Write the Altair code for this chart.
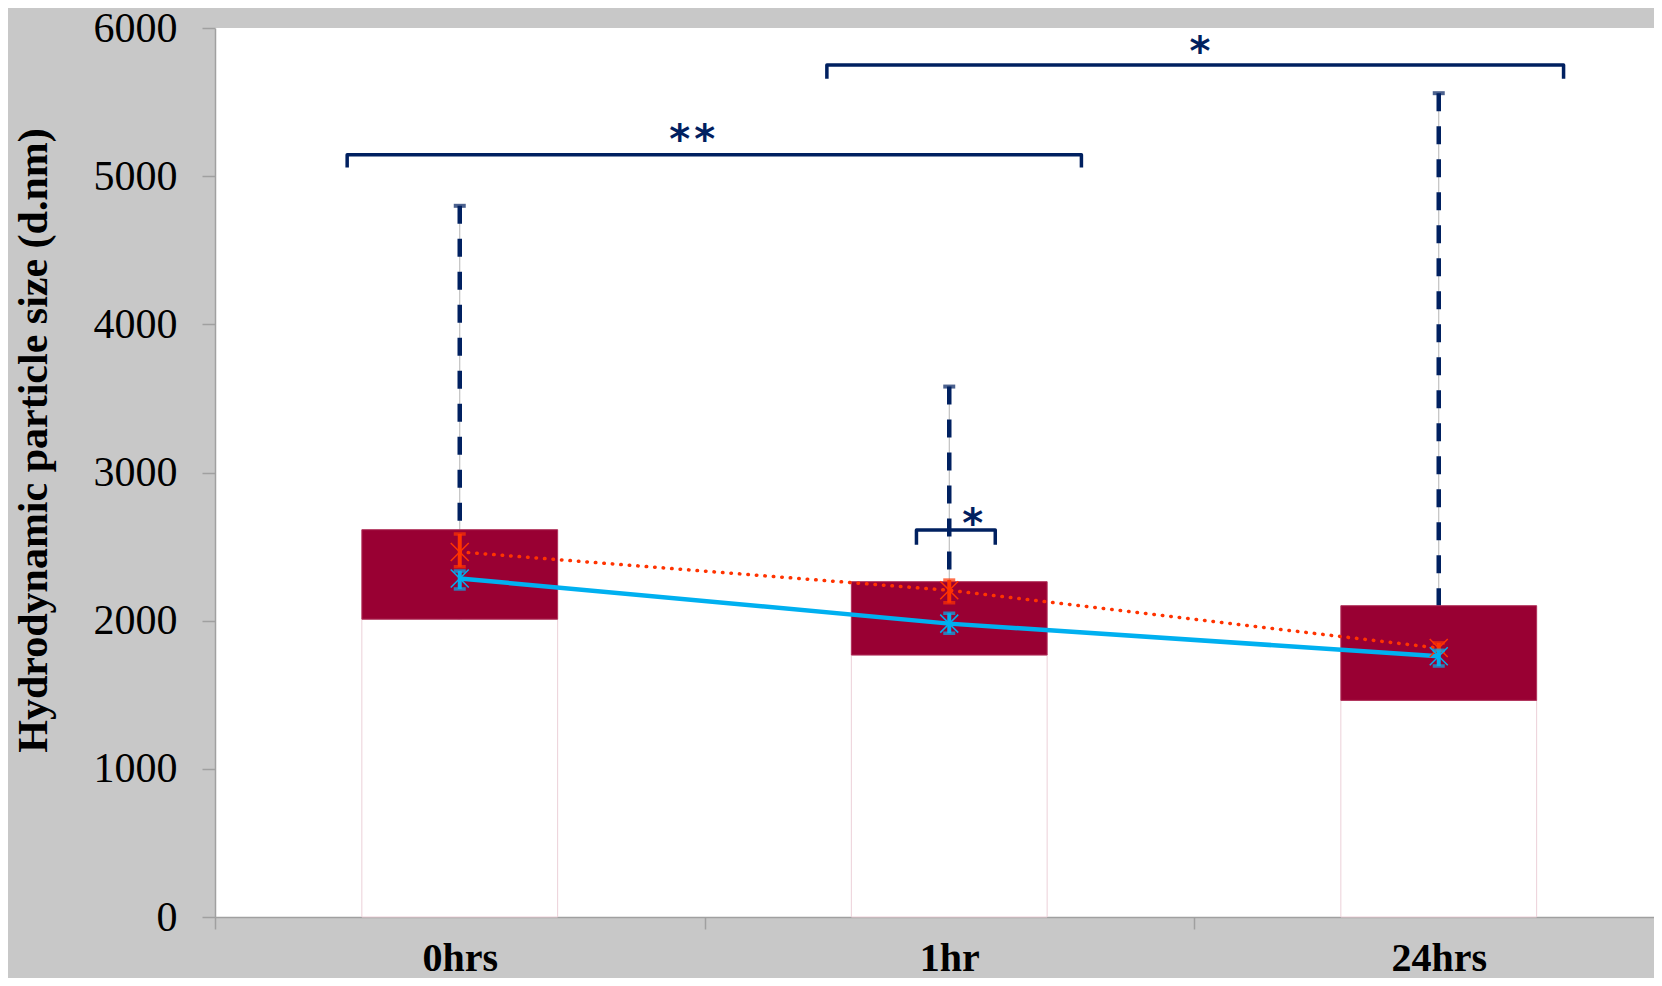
import altair as alt
import pandas as pd

# ---- data ----
categories = ["0hrs", "1hr", "24hrs"]
whisker_low = [1480, 1280, 820]
whisker_high = [4800, 3580, 5560]
box_low = [2010, 1768, 1462]
box_high = [2614, 2263, 2101]
orange_mean = [2464, 2205, 1815]
orange_low = [2364, 2121, 1790]
orange_high = [2585, 2274, 1850]
blue_mean = [2285, 1980, 1760]
blue_low = [2214, 1915, 1694]
blue_high = [2335, 2050, 1800]

# significance brackets (x in category units; category i is centred at i + 0.5)
br_x1 = [0.27, 1.25, 1.433]
br_x2 = [1.77, 2.755, 1.594]
br_y = [5145, 5750, 2612]
br_drop = [86, 93, 100]
br_label = ["*\u200a*", "*", "*"]
br_label_x = [0.975, 2.012, 1.548]
br_label_y = [5307, 5897, 2712]

# ---- tables ----
n = len(categories)
pos = [i + 0.5 for i in range(n)]
main = pd.DataFrame({
    "cat": categories, "pos": pos,
    "wlo": whisker_low, "whi": whisker_high,
    "blo": box_low, "bhi": box_high,
    "om": orange_mean, "olo": orange_low, "ohi": orange_high,
    "bm": blue_mean, "bl": blue_low, "bh": blue_high,
})
rows = []
for i in range(len(br_x1)):
    pts = [(br_x1[i], br_y[i] - br_drop[i]), (br_x1[i], br_y[i]),
           (br_x2[i], br_y[i]), (br_x2[i], br_y[i] - br_drop[i])]
    for k, (bx, by) in enumerate(pts):
        rows.append({"bid": i, "ord": k, "bx": bx, "by": by})
brackets = pd.DataFrame(rows)
stars = pd.DataFrame({"sx": br_label_x, "sy": br_label_y, "txt": br_label})

# ---- scales / axes ----
PLOT_W, PLOT_H = 1439, 889
STEP = 489.5
NAVY = "#002060"
ORANGE = "#FF3300"
BLUE = "#00B0F0"
GRAY_AX = "#a0a0a0"

x_scale = alt.Scale(domain=[0, PLOT_W / STEP], nice=False, zero=False)
y_scale = alt.Scale(domain=[0, 6000], nice=False)

label_expr = " : ".join(f"datum.value == {p} ? '{c}'" for p, c in zip(pos, categories)) + " : ''"
x_vals = sorted([float(i) for i in range(n)] + pos)
x_axis = alt.Axis(
    values=x_vals, labelExpr=label_expr,
    tickOpacity={"condition": {"test": "datum.value % 1 != 0", "value": 0}, "value": 1},
    tickSize=12, tickColor=GRAY_AX, tickWidth=1.5,
    domainColor=GRAY_AX, domainWidth=1.5,
    labelFont="Liberation Serif", labelFontSize=40, labelFontWeight="bold",
    labelColor="black", labelPadding=9, labelAngle=0, labelOverlap=False,
    labelFlush=False, grid=False,
)
y_axis = alt.Axis(
    values=list(range(0, 6001, 1000)), format="d",
    tickSize=13, tickColor=GRAY_AX, tickWidth=1.5,
    domainColor=GRAY_AX, domainWidth=1.5,
    labelFont="Liberation Serif", labelFontSize=42, labelColor="black",
    labelPadding=25, labelFlush=False, grid=False,
    titleFont="Liberation Serif", titleFontSize=42, titleFontWeight="bold",
    titleColor="black", titleAngle=270, titleX=-182, titleY=412,
    titleAlign="center", titleBaseline="middle",
)
Y_TITLE = "Hydrodynamic particle size (d.nm)"


def X(f):
    return alt.X(f, type="quantitative", scale=x_scale, axis=x_axis, title=None)


def Y(f):
    return alt.Y(f, type="quantitative", scale=y_scale, axis=y_axis, title=Y_TITLE)


base = alt.Chart(main).transform_calculate(
    xl="datum.pos - 0.2", xr="datum.pos + 0.2", zero="0"
)

whisk_thin = base.mark_rule(color="#b4b4b4", strokeWidth=1).encode(
    x=X("pos"), y=Y("whi"), y2="wlo:Q")
whisk_dash = base.mark_rule(color=NAVY, strokeWidth=4.5, strokeDash=[18, 15]).encode(
    x=X("pos"), y=Y("whi"), y2="wlo:Q")
cap_hi = base.mark_tick(color=NAVY, orient="horizontal", size=12, thickness=4).encode(
    x=X("pos"), y=Y("whi"))
cap_lo = base.mark_tick(color=NAVY, orient="horizontal", size=12, thickness=4).encode(
    x=X("pos"), y=Y("wlo"))

box_under = base.mark_rect(fill="white", stroke="#ecd0d8", strokeWidth=1).encode(
    x=X("xl"), x2="xr:Q", y=Y("blo"), y2="zero:Q")
box = base.mark_rect(fill="#990033", stroke="#b0305a", strokeWidth=1).encode(
    x=X("xl"), x2="xr:Q", y=Y("bhi"), y2="blo:Q")

line_blue = base.mark_line(color=BLUE, strokeWidth=4.5).encode(x=X("pos"), y=Y("bm"))
line_orange = base.mark_line(color=ORANGE, strokeWidth=3.5, strokeDash=[0.5, 8],
                             strokeCap="round").encode(x=X("pos"), y=Y("om"))

XSHAPE = "M-1,-1L1,1M1,-1L-1,1"


def markers(m, lo, hi, color):
    r = base.mark_rule(color=color, strokeWidth=4).encode(x=X("pos"), y=Y(hi), y2=f"{lo}:Q")
    c1 = base.mark_tick(color=color, orient="horizontal", size=12, thickness=3.5).encode(
        x=X("pos"), y=Y(hi))
    c2 = base.mark_tick(color=color, orient="horizontal", size=12, thickness=3.5).encode(
        x=X("pos"), y=Y(lo))
    p = base.mark_point(shape=XSHAPE, size=324, filled=False, color=color,
                        strokeWidth=1.5, opacity=1).encode(x=X("pos"), y=Y(m))
    return [r, c1, c2, p]


br = alt.Chart(brackets).mark_line(color=NAVY, strokeWidth=3.5, strokeJoin="round").encode(
    x=X("bx"), y=Y("by"), detail="bid:N", order="ord:Q")
st = alt.Chart(stars).mark_text(font="DejaVu Sans", fontWeight="bold", fontSize=40,
                                color=NAVY, baseline="alphabetic", dy=22).encode(
    x=X("sx"), y=Y("sy"), text="txt:N")

chart = alt.layer(
    whisk_thin, whisk_dash, cap_hi, cap_lo, box_under, box,
    line_orange, line_blue,
    *markers("om", "olo", "ohi", ORANGE),
    *markers("bm", "bl", "bh", BLUE),
    br, st,
).properties(
    width=PLOT_W, height=PLOT_H, autosize="none",
    padding={"left": 207, "top": 20, "right": 0, "bottom": 61},
    background="#c8c8c8",
).configure_view(fill="white", stroke=None)

chart.save("out.html", embed_options={"renderer": "svg", "actions": False})
